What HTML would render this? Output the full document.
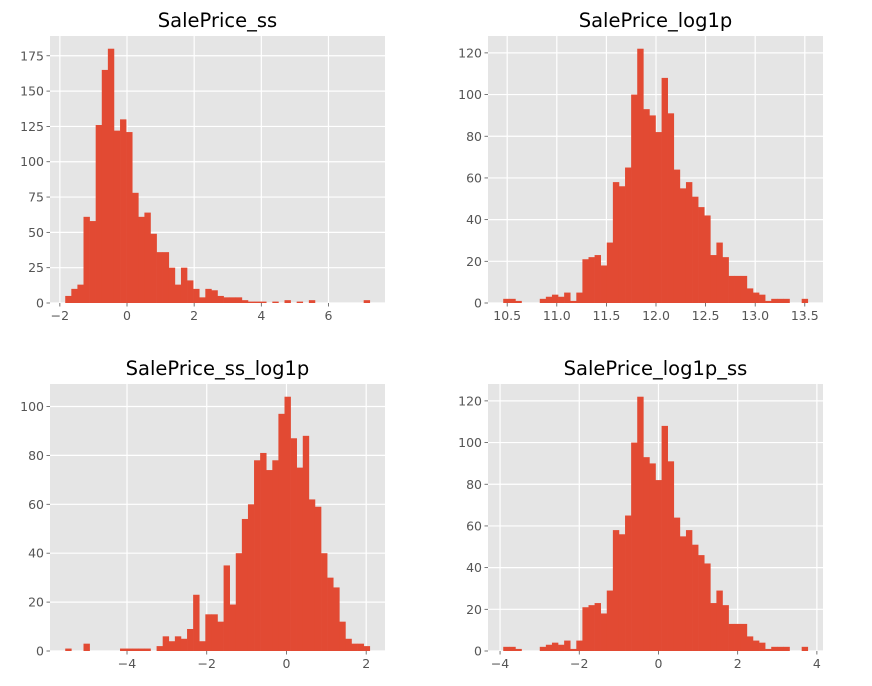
<!DOCTYPE html>
<html><head><meta charset="utf-8">
<style>
html,body{margin:0;padding:0;background:#fff;}
svg{display:block;font-family:"DejaVu Sans","Liberation Sans",sans-serif;}
</style></head>
<body>
<svg id="fig" width="872" height="686"></svg>
<script>
const ssCounts=[5,10,13,61,58,126,165,180,122,130,121,78,61,64,49,36,36,25,13,25,16,10,4,10,9,5,4,4,4,2,1,1,1,0,1,0,2,0,1,0,2,0,0,0,0,0,0,0,0,2];
const log1pCounts=[2,2,1,0,0,0,2,3,4,3,5,1,5,21,22,23,18,29,58,56,65,100,122,93,90,82,108,91,64,55,58,51,46,42,23,29,22,13,13,13,7,5,4,1,2,2,2,0,0,2];
const ssLog1pCounts=[1,0,0,3,0,0,0,0,0,1,1,1,1,1,0,2,6,4,6,5,9,23,4,15,15,12,35,19,40,54,60,78,81,74,78,97,104,87,75,88,62,59,40,30,26,12,5,3,3,2];
const log1pSsCounts=log1pCounts.slice();
const titles=["SalePrice_ss","SalePrice_log1p","SalePrice_ss_log1p","SalePrice_log1p_ss"];
const dataRanges=[[-1.84,7.23],[10.46,13.53],[-5.55,2.09],[-3.92,3.77]];
const xTicks=[[-2,0,2,4,6],[10.5,11,11.5,12,12.5,13,13.5],[-4,-2,0,2],[-4,-2,0,2,4]];
const xTickLabels=[["−2","0","2","4","6"],["10.5","11.0","11.5","12.0","12.5","13.0","13.5"],["−4","−2","0","2"],["−4","−2","0","2","4"]];
const yTicks=[[0,25,50,75,100,125,150,175],[0,20,40,60,80,100,120],[0,20,40,60,80,100],[0,20,40,60,80,100,120]];

const NS="http://www.w3.org/2000/svg";
const svg=document.getElementById('fig');
function mk(tag,attrs,parent){const e=document.createElementNS(NS,tag);for(const k in attrs)e.setAttribute(k,attrs[k]);(parent||svg).appendChild(e);return e;}
const boxes=[[50,36,335,267],[488,36,335,267],[50,384,335,267],[488,384,335,267]];
const allCounts=[ssCounts,log1pCounts,ssLog1pCounts,log1pSsCounts];
const slugs=["ss","log1p","ss-log1p","log1p-ss"];

for(let p=0;p<4;p++){
  const [bx,by,bw,bh]=boxes[p];
  const counts=allCounts[p];
  const [d0,d1]=dataRanges[p];
  const pad=(d1-d0)*0.05;
  const x0=d0-pad,x1=d1+pad;
  const ymax=Math.max(...counts)*1.05;
  const sx=v=>bx+(v-x0)/(x1-x0)*bw;
  const sy=v=>by+bh-v/ymax*bh;
  const g=mk('g',{});
  
  
  const bg=mk('rect',{x:bx,y:by,width:bw,height:bh,fill:'#E5E5E5'},g);
  
  
  xTicks[p].forEach(t=>{const l=mk('line',{x1:sx(t),x2:sx(t),y1:by,y2:by+bh,stroke:'#fff','stroke-width':1.2},g);
    });
  yTicks[p].forEach(t=>{const l=mk('line',{x1:bx,x2:bx+bw,y1:sy(t),y2:sy(t),stroke:'#fff','stroke-width':1.2},g);
    });
  const n=counts.length,w=(d1-d0)/n;
  counts.forEach((c,i)=>{
    if(c<=0)return;
    const xa=sx(d0+i*w),xb=sx(d0+(i+1)*w);
    const r=mk('rect',{x:xa,y:sy(c),width:xb-xa+0.3,height:sy(0)-sy(c),fill:'#E24A33'},g);
    
    
  });
  xTicks[p].forEach((t,i)=>{
    mk('line',{x1:sx(t),x2:sx(t),y1:by+bh,y2:by+bh+3.5,stroke:'#555','stroke-width':0.8},g);
    const tx=mk('text',{x:sx(t),y:by+bh+17,'text-anchor':'middle','font-size':12.5,fill:'#555'},g);
    tx.textContent=xTickLabels[p][i];
    
  });
  yTicks[p].forEach(t=>{
    mk('line',{x1:bx-3.5,x2:bx,y1:sy(t),y2:sy(t),stroke:'#555','stroke-width':0.8},g);
    const tx=mk('text',{x:bx-6,y:sy(t)+4.5,'text-anchor':'end','font-size':12.5,fill:'#555'},g);
    tx.textContent=String(t);
    
  });
  const tt=mk('text',{x:bx+bw/2,y:by-9,'text-anchor':'middle','font-size':19.5,fill:'#000'},g);
  tt.textContent=titles[p];
  
}
</script>
</body></html>
